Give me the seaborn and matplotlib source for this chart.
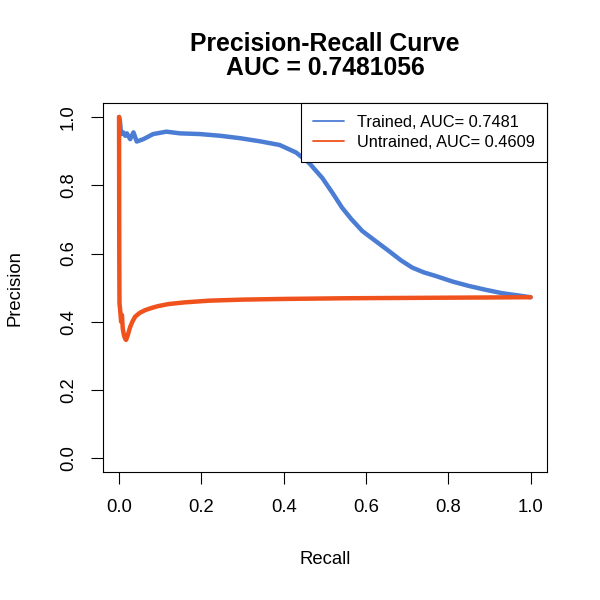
import pandas as pd
import matplotlib
matplotlib.use('Agg')
import matplotlib.pyplot as plt
from matplotlib.lines import Line2D
import seaborn as sns

# Precision-recall points
trained_recall = [0.000, 0.002, 0.005, 0.010, 0.015, 0.019, 0.027, 0.035, 0.043, 0.059,
                  0.083, 0.115, 0.148, 0.196, 0.245, 0.293, 0.341, 0.390, 0.430, 0.462,
                  0.494, 0.520, 0.542, 0.565, 0.591, 0.625, 0.656, 0.685, 0.712, 0.740,
                  0.770, 0.810, 0.850, 0.890, 0.930, 0.965, 1.000]
trained_precision = [1.000, 0.990, 0.950, 0.955, 0.945, 0.952, 0.935, 0.955, 0.928, 0.935,
                     0.950, 0.957, 0.952, 0.950, 0.945, 0.938, 0.929, 0.918, 0.896, 0.865,
                     0.821, 0.775, 0.734, 0.700, 0.666, 0.635, 0.607, 0.580, 0.559, 0.545,
                     0.534, 0.518, 0.505, 0.494, 0.484, 0.478, 0.472]

untrained_recall = [0.000, 0.0005, 0.001, 0.003, 0.005, 0.007, 0.009, 0.012, 0.015, 0.017,
                    0.021, 0.027, 0.033, 0.039, 0.050, 0.063, 0.080, 0.095, 0.120, 0.160,
                    0.220, 0.300, 0.400, 0.550, 0.700, 0.850, 1.000]
untrained_precision = [1.000, 0.600, 0.455, 0.430, 0.400, 0.420, 0.380, 0.360, 0.350, 0.347,
                       0.360, 0.385, 0.402, 0.415, 0.426, 0.434, 0.441, 0.446, 0.452, 0.457,
                       0.462, 0.465, 0.467, 0.469, 0.470, 0.471, 0.472]

labels = ['Trained, AUC= 0.7481', 'Untrained, AUC= 0.4609']
title = 'Precision-Recall Curve\nAUC = 0.7481056'
ticks = [0.0, 0.2, 0.4, 0.6, 0.8, 1.0]

BLUE = '#4C7DD4'
ORANGE = '#F0521E'

sns.set_style('white')
plt.rcParams['font.family'] = ['Liberation Sans', 'DejaVu Sans']
plt.rcParams['text.color'] = 'black'
plt.rcParams['axes.labelcolor'] = 'black'
plt.rcParams['xtick.color'] = 'black'
plt.rcParams['ytick.color'] = 'black'

df = pd.concat([
    pd.DataFrame({'recall': trained_recall, 'precision': trained_precision, 'model': labels[0]}),
    pd.DataFrame({'recall': untrained_recall, 'precision': untrained_precision, 'model': labels[1]}),
])

fig = plt.figure(figsize=(6, 6), dpi=100)
ax = fig.add_axes([0.171, 0.2133, 0.7408, 0.6145])

sns.lineplot(data=df, x='recall', y='precision', hue='model', palette=[BLUE, ORANGE],
             estimator=None, sort=False, linewidth=3.2, legend=False, ax=ax)

ax.set_xlim(-0.04, 1.04)
ax.set_ylim(-0.04, 1.04)
ax.set_xticks(ticks)
ax.set_yticks(ticks)
ax.set_xticklabels([f'{t:.1f}' for t in ticks])
ax.set_yticklabels([f'{t:.1f}' for t in ticks], rotation=90, va='center')
ax.tick_params(direction='out', length=8.6, width=0.8, labelsize=13.3,
               bottom=True, left=True)
ax.tick_params(axis='x', pad=11)
ax.tick_params(axis='y', pad=10)
for s in ax.spines.values():
    s.set_visible(True)
    s.set_color('black')
    s.set_linewidth(0.8)

ax.set_xlabel('Recall', fontsize=13.3, va='center')
ax.set_ylabel('Precision', fontsize=13.3, va='center')
ax.xaxis.set_label_coords(0.5, -0.2386)
ax.yaxis.set_label_coords(-0.198, 0.5)

fig.text(0.5417, 1 - 56 / 600, title, ha='center', va='center',
         fontsize=17.8, fontweight='bold', linespacing=1.0)

handles = [Line2D([], [], color=BLUE, lw=1.3), Line2D([], [], color=ORANGE, lw=1.3)]
leg = ax.legend(handles, labels, loc='upper right', bbox_to_anchor=(1, 1),
                borderaxespad=0, fontsize=11.8, frameon=True, fancybox=False,
                framealpha=1, edgecolor='black', handlelength=1.9,
                handletextpad=0.8, borderpad=0.72, labelspacing=0.3)
leg.get_frame().set_linewidth(0.8)

fig.savefig('out.png', dpi=100)
